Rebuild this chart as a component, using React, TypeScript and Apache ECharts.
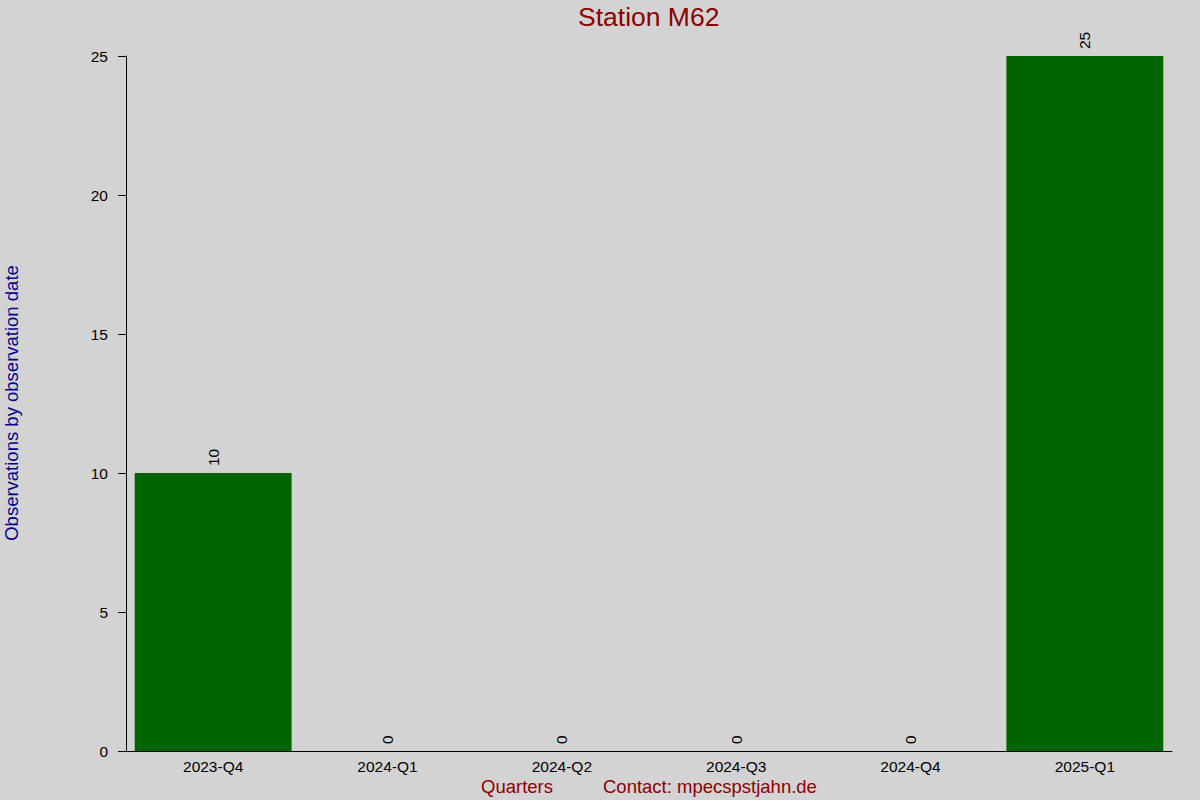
import React, { useEffect, useRef } from "react";
import * as echarts from "echarts";

const categories = ["2023-Q4", "2024-Q1", "2024-Q2", "2024-Q3", "2024-Q4", "2025-Q1"];
const observations = [10, 0, 0, 0, 0, 25];
const yTicks = { min: 0, max: 25, interval: 5 };

const FONT = "'Liberation Sans', Arial, sans-serif";

export default function App() {
  const ref = useRef<HTMLDivElement>(null);
  useEffect(() => {
    document.body.style.margin = "0";
    const chart = echarts.init(ref.current!, null, { renderer: "svg" });
    chart.setOption({
      animation: false,
      backgroundColor: "#d3d3d3",
      textStyle: { fontFamily: FONT },
      title: {
        text: "Station M62",
        left: 578,
        top: 3,
        padding: 0,
        textStyle: { color: "#8b0000", fontSize: 26.5, fontWeight: "normal", fontFamily: FONT },
      },
      grid: { left: 126, right: 28, top: 56, bottom: 49, containLabel: false },
      xAxis: {
        type: "category",
        data: categories,
        axisLine: { show: true, lineStyle: { color: "#000", width: 1 } },
        axisTick: { show: false },
        axisLabel: { color: "#000", fontSize: 15.5, margin: 7, fontFamily: FONT },
        splitLine: { show: false },
      },
      yAxis: {
        type: "value",
        min: yTicks.min,
        max: yTicks.max,
        interval: yTicks.interval,
        axisLine: { show: true, lineStyle: { color: "#000", width: 1 } },
        axisTick: { show: true, length: 8, lineStyle: { color: "#000" } },
        axisLabel: { color: "#000", fontSize: 15.5, margin: 18, fontFamily: FONT },
        splitLine: { show: false },
      },
      series: [
        {
          type: "bar",
          data: observations,
          barWidth: "90%",
          itemStyle: { color: "#006400" },
          label: {
            show: true,
            position: "top",
            rotate: 90,
            align: "left",
            verticalAlign: "middle",
            distance: 7,
            color: "#000",
            fontSize: 15.5,
            fontFamily: FONT,
          },
        },
      ],
      graphic: [
        {
          type: "text",
          rotation: Math.PI / 2,
          x: 11,
          y: 403,
          style: {
            text: "Observations by observation date",
            fill: "#00008b",
            fontSize: 18.5,
            fontFamily: FONT,
            align: "center",
            verticalAlign: "middle",
          },
        },
        {
          type: "text",
          x: 517,
          y: 786,
          style: {
            text: "Quarters",
            fill: "#8b0000",
            fontSize: 18.5,
            fontFamily: FONT,
            align: "center",
            verticalAlign: "middle",
          },
        },
        {
          type: "text",
          x: 603,
          y: 786,
          style: {
            text: "Contact: mpecspstjahn.de",
            fill: "#8b0000",
            fontSize: 18.5,
            fontFamily: FONT,
            align: "left",
            verticalAlign: "middle",
          },
        },
      ],
    });
    return () => chart.dispose();
  }, []);
  return (
    <div
      ref={ref}
      style={{ position: "fixed", left: 0, top: 0, width: 1200, height: 800 }}
    />
  );
}
